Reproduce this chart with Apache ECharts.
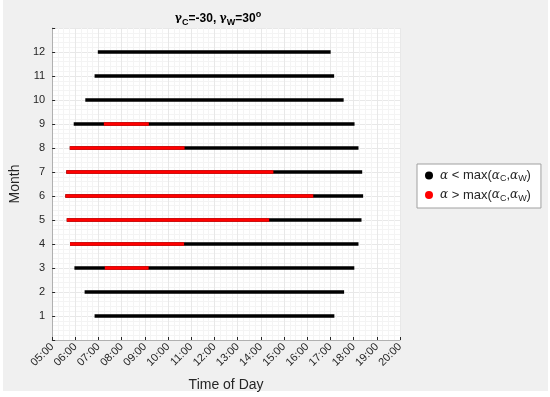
<!DOCTYPE html>
<html>
<head>
<meta charset="utf-8">
<script src="https://cdn.jsdelivr.net/npm/echarts@6/dist/echarts.min.js"></script>
<style>html,body{margin:0;padding:0;background:#fff;}#c{width:550px;height:397px;}</style>
</head>
<body>
<div id="c"></div>
<script>
var months = [1,2,3,4,5,6,7,8,9,10,11,12];
var startTime = [6.83,6.40,5.96,5.77,5.63,5.57,5.61,5.76,5.93,6.43,6.83,6.97];
var endTime   = [17.17,17.59,18.03,18.21,18.34,18.41,18.37,18.21,18.04,17.57,17.16,17.01];
var redStart  = [null,null,7.27,5.77,5.63,5.57,5.61,5.76,7.23,null,null,null];
var redEnd    = [null,null,9.16,10.69,14.36,16.26,14.54,10.71,9.17,null,null,null];
var xTicks = ['05:00','06:00','07:00','08:00','09:00','10:00','11:00','12:00','13:00','14:00','15:00','16:00','17:00','18:00','19:00','20:00'];
var blackName = 'below';
var redName = 'above';

var blackData = [];
var redData = [];
for (var i = 0; i < months.length; i++) {
  blackData.push([startTime[i], months[i]], [endTime[i], months[i]], [null, null]);
  if (redStart[i] !== null) {
    redData.push([redStart[i], months[i]], [redEnd[i], months[i]], [null, null]);
  }
}

var FONT = '"Liberation Sans", Arial, sans-serif';
var chart = echarts.init(document.getElementById('c'), null, {renderer: 'canvas'});
var legendRich = {
  a: {fontFamily: 'DejaVu Serif', fontStyle: 'italic', fontSize: 12, color: '#262626'},
  s: {fontFamily: FONT, fontSize: 9, color: '#262626', padding: [7,0,0,0]},
  t: {fontFamily: FONT, fontSize: 13, color: '#262626'}
};
chart.setOption({
  backgroundColor: '#ffffff',
  animation: false,
  graphic: [
    {type: 'rect', z: -10, silent: true, shape: {x: 3, y: 0, width: 545, height: 391}, style: {fill: '#f0f0f0'}}
  ],
  title: {
    text: '{g|γ}{s|C}{t|=-30, }{g|γ}{s|W}{t|=30}{p|o}',
    left: 213, top: 5, textAlign: 'center',
    textStyle: {
      rich: {
        g: {fontFamily: 'DejaVu Serif', fontSize: 11, color: '#000'},
        t: {fontFamily: FONT, fontSize: 12, fontWeight: 'bold', color: '#000'},
        s: {fontFamily: FONT, fontSize: 9, fontWeight: 'bold', color: '#000', padding: [8,0,0,0]},
        p: {fontFamily: FONT, fontSize: 9, fontWeight: 'bold', color: '#000', padding: [0,0,7,0]}
      }
    }
  },
  grid: {left: 49, top: 28, width: 351, height: 316, backgroundColor: '#ffffff', show: true, borderWidth: 0},
  xAxis: {
    type: 'value', min: 5, max: 20, interval: 1,
    name: 'Time of Day', nameLocation: 'middle', nameGap: 38,
    nameTextStyle: {fontFamily: FONT, fontSize: 14, color: '#262626'},
    axisLine: {show: true, lineStyle: {color: '#b0b0b0', width: 1}},
    axisTick: {show: true, inside: true, length: 3, lineStyle: {color: '#262626'}},
    axisLabel: {
      rotate: 45, fontFamily: FONT, fontSize: 11, color: '#262626', margin: 5,
      formatter: function (v) { return xTicks[Math.round(v) - 5]; }
    },
    splitLine: {show: true, lineStyle: {color: '#e8e8e8', width: 1}},
    minorTick: {show: false, splitNumber: 4},
    minorSplitLine: {show: true, lineStyle: {color: '#f4f4f4', width: 1}}
  },
  yAxis: {
    type: 'value', min: 0, max: 13, interval: 1,
    name: 'Month', nameLocation: 'middle', nameGap: 22, nameRotate: 90,
    nameTextStyle: {fontFamily: FONT, fontSize: 14, color: '#262626'},
    axisLine: {show: true, lineStyle: {color: '#b0b0b0', width: 1}},
    axisTick: {show: true, inside: true, length: 3, lineStyle: {color: '#262626'}},
    axisLabel: {
      fontFamily: FONT, fontSize: 11, color: '#262626', margin: 7,
      formatter: function (v) { return (v >= 1 && v <= 12) ? String(v) : ''; }
    },
    splitLine: {show: true, lineStyle: {color: '#e8e8e8', width: 1}},
    minorTick: {show: false, splitNumber: 5},
    minorSplitLine: {show: true, lineStyle: {color: '#f4f4f4', width: 1}}
  },
  legend: {
    orient: 'vertical', left: 417, top: 164,
    backgroundColor: '#ffffff', borderColor: '#a0a0a0', borderWidth: 1,
    padding: [5, 10, 5, 8], itemGap: 5, itemWidth: 8, itemHeight: 8,
    data: [
      {name: blackName, icon: 'circle', itemStyle: {color: '#000'}},
      {name: redName, icon: 'circle', itemStyle: {color: '#ff0000'}}
    ],
    formatter: function (n) {
      return n === blackName
        ? '{a|α}{t| < max(}{a|α}{s|C}{t|,}{a|α}{s|W}{t|)}'
        : '{a|α}{t| > max(}{a|α}{s|C}{t|,}{a|α}{s|W}{t|)}';
    },
    textStyle: {rich: legendRich, padding: [0,0,0,2]}
  },
  series: [
    {
      name: blackName, type: 'line', data: blackData, showSymbol: false, symbol: 'none',
      connectNulls: false, lineStyle: {color: '#000', width: 3.5, cap: 'butt'}, itemStyle: {color: '#000'}, z: 3
    },
    {
      name: redName, type: 'line', data: redData, showSymbol: false, symbol: 'none',
      connectNulls: false, lineStyle: {color: '#ff0000', width: 3.5, cap: 'butt'}, itemStyle: {color: '#ff0000'}, z: 4
    }
  ]
});
</script>
</body>
</html>
